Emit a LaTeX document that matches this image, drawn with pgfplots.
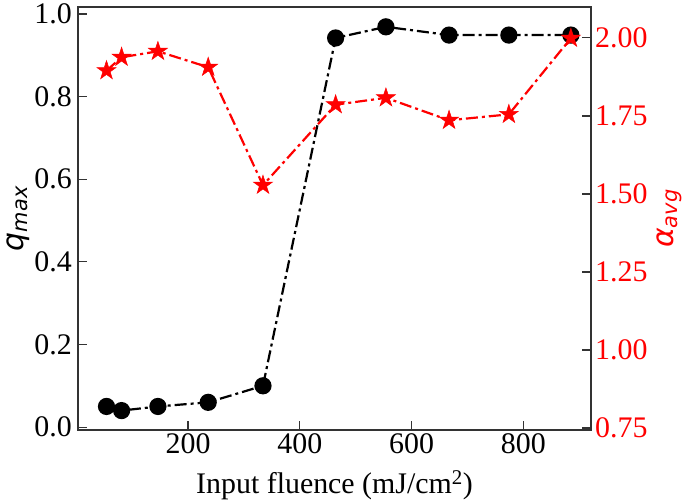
\documentclass[border=0pt]{standalone}
\usepackage{pgfplots}
\pgfplotsset{compat=1.18}
\usepackage{fontspec}
\setmainfont{Liberation Serif}
\newfontfamily\dejavu{DejaVu Sans}
\definecolor{axgray}{HTML}{333333}
\pgfdeclareplotmark{fstar}{%
  \pgfpathmoveto{\pgfpointpolar{90}{\pgfplotmarksize}}%
  \pgfpathlineto{\pgfpointpolar{126}{0.382\pgfplotmarksize}}%
  \pgfpathlineto{\pgfpointpolar{162}{\pgfplotmarksize}}%
  \pgfpathlineto{\pgfpointpolar{198}{0.382\pgfplotmarksize}}%
  \pgfpathlineto{\pgfpointpolar{234}{\pgfplotmarksize}}%
  \pgfpathlineto{\pgfpointpolar{270}{0.382\pgfplotmarksize}}%
  \pgfpathlineto{\pgfpointpolar{306}{\pgfplotmarksize}}%
  \pgfpathlineto{\pgfpointpolar{342}{0.382\pgfplotmarksize}}%
  \pgfpathlineto{\pgfpointpolar{18}{\pgfplotmarksize}}%
  \pgfpathlineto{\pgfpointpolar{54}{0.382\pgfplotmarksize}}%
  \pgfpathclose
  \pgfusepathqfillstroke}
\begin{document}
\begin{tikzpicture}
\pgfplotsset{
  every axis/.append style={
    font=\fontsize{30}{35}\selectfont\rmfamily,
    scale only axis, width=513bp, height=423bp,
    xmin=3, xmax=921,
    tick align=inside, major tick length=9bp,
    axis line style={axgray, line width=1.2bp},
    every tick/.style={axgray, line width=1.2bp},
  }
}
\begin{axis}[
  name=a,
  ymin=-0.007, ymax=1.017,
  xtick={200,400,600,800},
  xticklabels={200,400,600,800},
  ytick={0,0.2,0.4,0.6,0.8,1.0},
  yticklabels={0.0,0.2,0.4,0.6,0.8,1.0},
  xtick pos=bottom, ytick pos=left,
  yticklabel style={inner xsep=6bp},
  xlabel={Input fluence (mJ/cm\textsuperscript{2})},
  xlabel style={at={(axis description cs:0.5,0)}, anchor=base, yshift=-63bp},
  ylabel={\dejavu\itshape q\textsubscript{max}},
  ylabel style={at={(axis description cs:0,0.5)}, anchor=center, yshift=60bp},
]
\addplot[black, line width=2.2bp, dash pattern=on 12bp off 4bp on 3bp off 4bp, mark=*, mark size=7.5bp, mark options={solid}]
coordinates {(54,0.050) (81,0.040) (146,0.050) (236,0.060) (334,0.100) (464,0.942) (554,0.969) (667,0.949) (774,0.949) (885,0.949)};
\end{axis}
\begin{axis}[
  ymin=0.7436, ymax=2.099,
  axis x line=none, axis y line*=right,
  ytick={0.75,1.00,1.25,1.50,1.75,2.00},
  yticklabels={0.75,1.00,1.25,1.50,1.75,2.00},
  yticklabel style={red, inner xsep=4bp},
  ylabel={\dejavu\itshape α\textsubscript{avg}},
  ylabel style={red, at={(axis description cs:1,0.5)}, anchor=center, yshift=-78bp},
]
\addplot[red, line width=2.2bp, dash pattern=on 12bp off 4bp on 3bp off 4bp, mark=fstar, mark size=10bp, mark options={solid, fill=red, line width=0.5bp}]
coordinates {(54,1.895) (81,1.938) (146,1.957) (236,1.906) (334,1.528) (464,1.786) (554,1.808) (667,1.736) (774,1.755) (885,1.999)};
\end{axis}
\pgfresetboundingbox
\path ([xshift=-78bp,yshift=7bp]a.north west) rectangle ([xshift=94bp,yshift=-72bp]a.south east);
\end{tikzpicture}
\end{document}
